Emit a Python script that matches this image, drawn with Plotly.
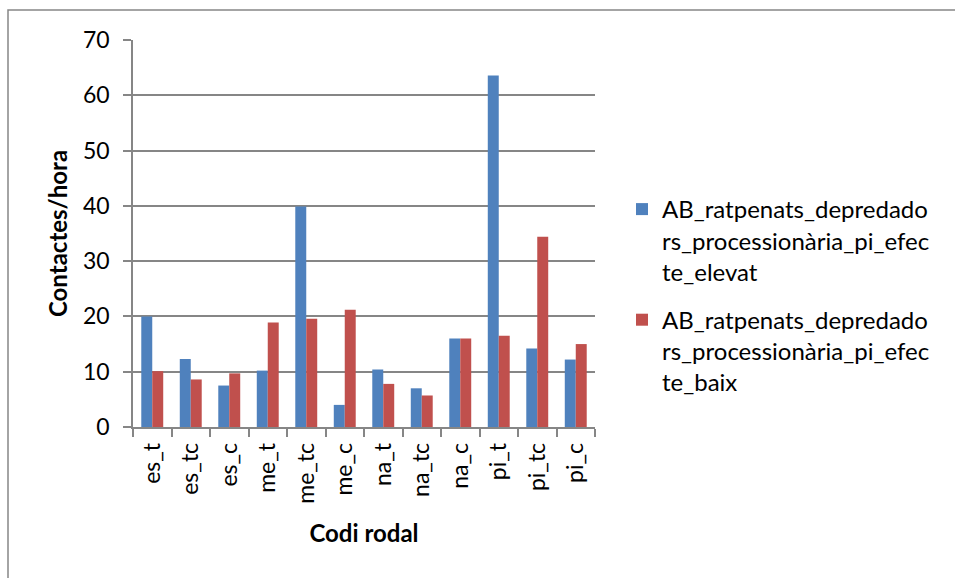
import plotly.graph_objects as go

categories = ["es_t", "es_tc", "es_c", "me_t", "me_tc", "me_c",
              "na_t", "na_tc", "na_c", "pi_t", "pi_tc", "pi_c"]
elevat = [20.0, 12.3, 7.5, 10.2, 39.9, 4.0, 10.4, 7.0, 16.0, 63.6, 14.2, 12.2]
baix = [10.1, 8.6, 9.7, 18.9, 19.6, 21.2, 7.8, 5.7, 16.0, 16.5, 34.4, 15.0]
series_names = [
    "AB_ratpenats_depredado<br>rs_processionària_pi_efec<br>te_elevat",
    "AB_ratpenats_depredado<br>rs_processionària_pi_efec<br>te_baix",
]
y_ticks = [0, 10, 20, 30, 40, 50, 60, 70]

W, H = 955, 578
L, R, T, B = 133, 595, 40, 427
pw, ph = R - L, B - T

def px_x(p):
    return (p - L) / pw

def px_y(p):
    return (B - p) / ph

FONT = "Lato"
GRID = "#868686"

fig = go.Figure()
fig.add_trace(go.Bar(x=categories, y=elevat, name=series_names[0],
                     marker=dict(color="#4F81BD", line=dict(width=0)),
                     legendgroup="a"))
fig.add_trace(go.Bar(x=categories, y=baix, name=series_names[1],
                     marker=dict(color="#C0504D", line=dict(width=0)),
                     legendgroup="b"))

fig.update_layout(
    width=W, height=H,
    margin=dict(l=L, r=W - R, t=T, b=H - B, autoexpand=False),
    paper_bgcolor="white", plot_bgcolor="white",
    font=dict(family=FONT, color="black", size=23),
    barmode="group", bargap=0.43, bargroupgap=0,
    legend=dict(x=px_x(622), y=px_y(187), xanchor="left", yanchor="top",
                font=dict(size=24, family=FONT), valign="top",
                tracegroupgap=14, bgcolor="rgba(0,0,0,0)"),
    showlegend=True,
)
fig.update_xaxes(
    type="category", tickangle=-90, tickson="boundaries",
    ticks="outside", ticklen=8, tickcolor=GRID, tickwidth=1.5,
    showline=True, linecolor=GRID, linewidth=1.5,
    showgrid=False, automargin=False, ticklabelstandoff=5,
    tickfont=dict(size=23, family=FONT),
    title=dict(text="<b>Codi rodal</b>", font=dict(size=24, family=FONT), standoff=22),
)
fig.update_yaxes(
    range=[0, 70], tickvals=y_ticks,
    ticks="outside", ticklen=8, tickcolor=GRID, tickwidth=1.5,
    showline=True, linecolor=GRID, linewidth=1.5,
    showgrid=True, gridcolor=GRID, gridwidth=1.5,
    zeroline=False, automargin=False, ticklabelstandoff=9,
    tickfont=dict(size=23, family=FONT),
    title=dict(text="<b>Contactes/hora</b>", font=dict(size=24, family=FONT), standoff=9),
)
# outer chart border (left and top visible)
fig.add_shape(type="rect", xref="paper", yref="paper",
              x0=px_x(8), x1=px_x(965), y0=px_y(590), y1=px_y(10),
              line=dict(color=GRID, width=1.5), fillcolor="rgba(0,0,0,0)", layer="below")

fig.write_html("out.html")
